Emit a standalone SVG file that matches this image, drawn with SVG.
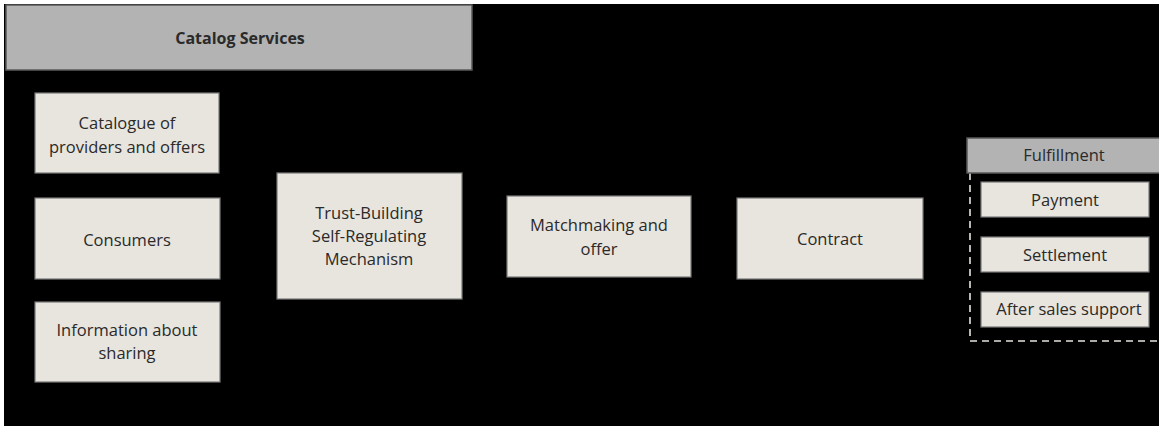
<svg xmlns="http://www.w3.org/2000/svg" width="1159" height="426" viewBox="0 0 1159 426">
<style>
.box{fill:#e8e4de;stroke:#7a7a7a;stroke-width:1.2}
.hdr{fill:#b3b3b3;stroke:#5a5a5a;stroke-width:1.5}
text{font-family:"Open Sans","Liberation Sans",sans-serif;font-size:16.5px;fill:#2a2a2a;text-anchor:middle}
.b{font-weight:bold;font-size:16px}
.dash{fill:none;stroke:#e8e4de;stroke-width:1.6;stroke-dasharray:7,5}
</style>
<rect x="0" y="0" width="1159" height="426" fill="#fff"/>
<rect x="4" y="4" width="1155" height="422" fill="#000"/>
<g id="catalog-services">
<rect class="hdr" x="6" y="5" width="466" height="65"/>
<text class="b" x="240" y="44">Catalog Services</text>
</g>
<g id="catalogue">
<rect class="box" x="35" y="93" width="184" height="80"/>
<text x="127" y="129">Catalogue of</text>
<text x="127" y="153">providers and offers</text>
</g>
<g id="consumers">
<rect class="box" x="35" y="198" width="185" height="81"/>
<text x="127" y="246">Consumers</text>
</g>
<g id="information">
<rect class="box" x="35" y="302" width="185" height="80"/>
<text x="127" y="336">Information about</text>
<text x="127" y="359">sharing</text>
</g>
<g id="trust">
<rect class="box" x="277" y="173" width="185" height="126"/>
<text x="369" y="219">Trust-Building</text>
<text x="369" y="242">Self-Regulating</text>
<text x="369" y="265">Mechanism</text>
</g>
<g id="matchmaking">
<rect class="box" x="507" y="196" width="184" height="81"/>
<text x="599" y="231">Matchmaking and</text>
<text x="599" y="255">offer</text>
</g>
<g id="contract">
<rect class="box" x="737" y="198" width="186" height="81"/>
<text x="830" y="245">Contract</text>
</g>
<g id="fulfillment">
<path class="dash" d="M970 173 V341 H1159"/>
<rect class="hdr" x="967" y="138" width="195" height="35"/>
<text x="1064" y="161">Fulfillment</text>
</g>
<g id="payment">
<rect class="box" x="981" y="182" width="168" height="35"/>
<text x="1065" y="206">Payment</text>
</g>
<g id="settlement">
<rect class="box" x="981" y="237" width="168" height="35"/>
<text x="1065" y="261">Settlement</text>
</g>
<g id="after-sales">
<rect class="box" x="981" y="292" width="168" height="35"/>
<text x="1069" y="315">After sales support</text>
</g>
<g id="connectors"></g>
</svg>
